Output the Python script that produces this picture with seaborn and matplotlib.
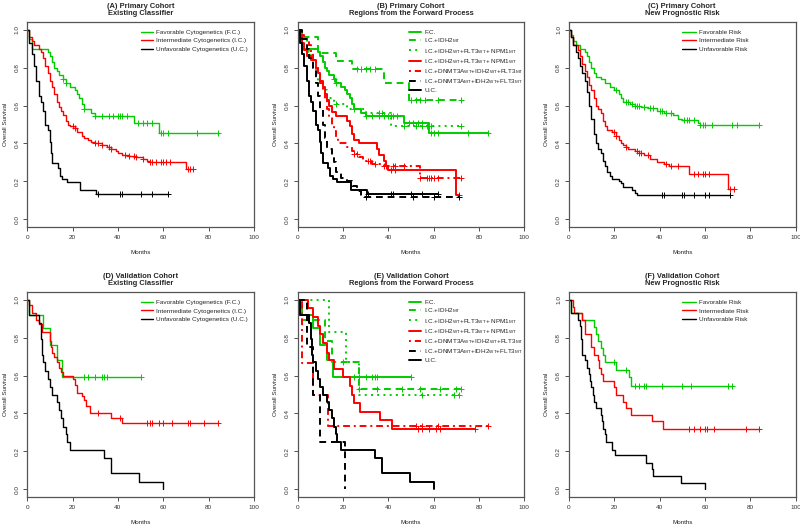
import numpy as np
import matplotlib.pyplot as plt
import seaborn as sns

sns.set_style("ticks")
plt.rcParams["font.family"] = ["Liberation Sans", "DejaVu Sans"]
plt.rcParams["mathtext.fontset"] = "custom"
plt.rcParams["mathtext.rm"] = "Liberation Sans"

GREEN = "#00CC00"
RED = "#FF0000"
BLACK = "#000000"

# ---- (A) primary cohort, existing classifier ----
a_fc_t = [1, 2, 9, 10, 11, 12, 13, 14, 16, 17, 19, 21, 22, 23, 24, 25, 28, 30, 47, 58]
a_fc_s = [0.95, 0.90, 0.88, 0.86, 0.83, 0.80, 0.78, 0.76, 0.74, 0.72, 0.70, 0.68, 0.66, 0.64, 0.61, 0.58, 0.56, 0.545, 0.51, 0.455]
a_fc_c = [16, 17, 25, 30, 33, 36, 38, 40, 41, 42, 44, 49, 51, 53, 55, 59, 60, 62, 75, 84]

a_ic_t = [1, 2, 3, 5, 6, 7, 8, 9, 10, 11, 12, 13, 14, 15, 16, 17, 18, 19, 21, 22, 24, 25, 27, 28, 30, 33, 35, 37, 39, 40, 42, 45, 48, 51, 53, 54, 70]
a_ic_s = [0.96, 0.94, 0.92, 0.90, 0.88, 0.85, 0.81, 0.77, 0.73, 0.70, 0.66, 0.62, 0.59, 0.57, 0.55, 0.52, 0.50, 0.49, 0.48, 0.46, 0.44, 0.43, 0.42, 0.41, 0.40, 0.39, 0.38, 0.37, 0.36, 0.35, 0.34, 0.335, 0.33, 0.32, 0.31, 0.305, 0.265]
a_ic_c = [20, 21, 30, 31, 33, 36, 37, 43, 45, 47, 48, 51, 54, 55, 57, 59, 60, 61, 63, 71, 72, 73]

a_uc_t = [1, 2, 3, 4, 5, 6, 7, 8, 9, 10, 10.5, 11, 13.5, 14.5, 15.5, 17.5, 19.5, 23.5, 30.5]
a_uc_s = [0.93, 0.87, 0.81, 0.73, 0.65, 0.62, 0.57, 0.50, 0.47, 0.41, 0.35, 0.295, 0.27, 0.23, 0.215, 0.195, 0.195, 0.155, 0.135]
a_uc_c = [31, 41, 42, 50, 55, 62]

# ---- (B) primary cohort, forward process regions ----
b_idh_t = [1, 9, 17, 24, 38, 49]
b_idh_s = [0.96, 0.875, 0.835, 0.79, 0.72, 0.63]
b_idh_c = [26, 28, 30, 32, 34, 50, 52, 54, 56, 62, 72]

b_npm_t = [2, 4, 5, 6, 7, 8, 9, 11, 13, 16, 22, 30, 41]
b_npm_s = [0.96, 0.92, 0.88, 0.84, 0.80, 0.76, 0.72, 0.68, 0.64, 0.61, 0.58, 0.56, 0.49]
b_npm_c = [17, 36, 37, 47, 52, 55, 57, 59, 72]

b_wt_t = [1, 2, 3, 4, 6, 8, 9, 10, 11, 12, 13, 14, 15, 17, 22, 23, 24, 25, 27, 35, 36, 38, 39, 40, 70]
b_wt_s = [0.97, 0.93, 0.89, 0.86, 0.84, 0.80, 0.77, 0.73, 0.70, 0.66, 0.63, 0.60, 0.565, 0.545, 0.52, 0.49, 0.45, 0.42, 0.40, 0.37, 0.34, 0.31, 0.28, 0.26, 0.13]
b_wt_c = [39, 41, 43, 71]

b_flt_t = [1, 3, 5, 6, 7, 8, 9, 10, 11, 12, 13, 14, 15, 16, 17, 18, 22, 24, 25, 27, 29, 33, 38, 54]
b_flt_s = [0.97, 0.95, 0.92, 0.88, 0.84, 0.80, 0.76, 0.72, 0.68, 0.63, 0.58, 0.54, 0.50, 0.465, 0.43, 0.40, 0.38, 0.36, 0.345, 0.33, 0.31, 0.29, 0.28, 0.22]
b_flt_c = [25, 26, 31, 32, 34, 38, 42, 43, 47, 54, 57, 58, 59, 60, 62, 72]

b_dn_t = [2, 4, 5, 7, 8, 9, 10, 11, 12, 13, 15, 16, 17, 19, 22, 24, 26, 28]
b_dn_s = [0.95, 0.90, 0.85, 0.80, 0.72, 0.65, 0.58, 0.50, 0.43, 0.37, 0.34, 0.30, 0.25, 0.22, 0.20, 0.175, 0.15, 0.12]
b_dn_c = [30, 51, 60, 71]

# ---- (C) primary cohort, new prognostic risk ----
c_fav_t = [1, 2, 3, 5, 7, 8, 9, 10, 11, 12, 14, 16, 18, 20, 22, 23, 24, 27, 29, 32, 35, 39, 42, 46, 48, 50, 57, 58]
c_fav_s = [0.97, 0.94, 0.92, 0.90, 0.88, 0.86, 0.83, 0.80, 0.77, 0.75, 0.74, 0.72, 0.70, 0.68, 0.66, 0.64, 0.62, 0.61, 0.60, 0.59, 0.585, 0.57, 0.56, 0.55, 0.53, 0.525, 0.51, 0.495]
c_fav_c = [21, 25, 26, 28, 29, 30, 31, 33, 36, 37, 40, 41, 43, 45, 51, 52, 53, 55, 58, 59, 60, 63, 72, 74, 84]

c_int_t = [1, 2, 4, 5, 6, 7, 8, 9, 10, 11, 12, 13, 14, 15, 16, 17, 19, 21, 22, 23, 24, 25, 26, 29, 31, 33, 36, 39, 42, 44, 53, 70]
c_int_s = [0.96, 0.92, 0.89, 0.86, 0.82, 0.78, 0.75, 0.71, 0.68, 0.64, 0.60, 0.58, 0.56, 0.52, 0.49, 0.47, 0.46, 0.44, 0.42, 0.40, 0.39, 0.38, 0.37, 0.36, 0.35, 0.34, 0.32, 0.30, 0.29, 0.28, 0.24, 0.16]
c_int_c = [20, 21, 25, 30, 31, 32, 35, 43, 45, 48, 55, 57, 59, 60, 62, 71, 73]

c_unf_t = [1, 2, 3, 4, 5, 6, 7, 8, 9, 10, 11, 12, 13, 14, 15, 16, 17, 18, 19, 22, 23, 24, 28, 29, 30]
c_unf_s = [0.96, 0.92, 0.88, 0.85, 0.81, 0.77, 0.73, 0.67, 0.60, 0.53, 0.45, 0.40, 0.37, 0.35, 0.31, 0.28, 0.25, 0.23, 0.215, 0.205, 0.19, 0.17, 0.155, 0.14, 0.13]
c_unf_c = [41, 42, 50, 51, 55, 60, 62, 71]

# ---- (D) validation cohort, existing classifier ----
d_fc_t = [1, 7, 10, 13, 15.5]
d_fc_s = [0.92, 0.85, 0.76, 0.68, 0.59]
d_fc_c = [25, 27, 30, 33, 34, 35, 50]

d_ic_t = [1, 2, 4, 5, 6.5, 10, 10.5, 11, 12, 13, 14, 15, 16, 20, 21, 22, 24, 25, 26, 27.5, 37, 42]
d_ic_s = [0.97, 0.93, 0.89, 0.87, 0.83, 0.78, 0.75, 0.72, 0.70, 0.67, 0.64, 0.62, 0.60, 0.58, 0.55, 0.51, 0.49, 0.47, 0.44, 0.40, 0.375, 0.35]
d_ic_c = [31, 41, 53, 54, 55, 58, 60, 64, 71, 72, 78, 84]

d_uc_t = [1, 5, 6, 6.5, 7, 8, 9, 10, 11, 13, 14, 15, 16, 17, 17.5, 19, 34, 37, 49.5, 60]
d_uc_s = [0.92, 0.875, 0.79, 0.71, 0.67, 0.625, 0.58, 0.54, 0.50, 0.46, 0.42, 0.375, 0.33, 0.29, 0.25, 0.21, 0.165, 0.085, 0.04, 0.0]
d_uc_c = []

# ---- (E) validation cohort, forward process regions ----
e_idh_t = [2, 12, 15, 27]
e_idh_s = [0.89, 0.78, 0.67, 0.53]
e_idh_c = [20, 27, 35, 46, 54, 63, 70, 72]

e_npm_t = [14, 21.5, 27]
e_npm_s = [0.83, 0.67, 0.50]
e_npm_c = [55, 69, 71]

e_wt_t = [4.5, 7, 9, 10, 11, 13, 14, 16, 20, 23, 24, 25, 27.5, 36.5, 41.5]
e_wt_s = [0.955, 0.91, 0.86, 0.82, 0.77, 0.72, 0.68, 0.635, 0.59, 0.545, 0.50, 0.455, 0.41, 0.365, 0.32]
e_wt_c = [53, 55, 58, 61, 63, 78]

e_flt_t = [2, 7, 13.5]
e_flt_s = [0.667, 0.50, 0.333]
e_flt_c = [52, 55, 62, 84]

e_dn_t = [4, 7, 10, 21]
e_dn_s = [0.75, 0.50, 0.25, 0.0]
e_dn_c = []

# ---- (F) validation cohort, new prognostic risk ----
f_fav_t = [1, 6, 11, 12, 13, 14, 15, 16, 21, 26.5, 27.5]
f_fav_s = [0.93, 0.89, 0.855, 0.82, 0.78, 0.745, 0.71, 0.67, 0.63, 0.59, 0.545]
f_fav_c = [20, 25, 29, 31, 33, 34, 41, 50, 54, 70, 72]

f_int_t = [2, 2.5, 6, 7, 10, 11, 13, 13.5, 14, 15, 20, 21, 24, 25, 27.5, 36.5, 41.5]
f_int_s = [0.96, 0.93, 0.89, 0.82, 0.75, 0.71, 0.68, 0.64, 0.61, 0.57, 0.54, 0.50, 0.46, 0.43, 0.39, 0.36, 0.32]
f_int_c = [53, 55, 58, 60, 61, 64, 78, 84]

f_unf_t = [1, 4, 5, 5.5, 6, 7, 8, 9, 9.5, 10, 10.5, 11, 12, 14, 14.5, 15, 16, 16.5, 19, 20.5, 34, 36.5, 37, 49.5, 60]
f_unf_s = [0.93, 0.89, 0.86, 0.79, 0.71, 0.68, 0.64, 0.61, 0.57, 0.54, 0.50, 0.46, 0.43, 0.39, 0.36, 0.32, 0.29, 0.25, 0.21, 0.18, 0.14, 0.11, 0.07, 0.036, 0.0]
f_unf_c = []

lab_fc = "Favorable Cytogenetics (F.C.)"
lab_ic = "Intermediate Cytogenetics (I.C.)"
lab_uc = "Unfavorable Cytogenetics (U.C.)"
lab_b = ["F.C.",
         r"I.C.+IDH2$_{\mathrm{MT}}$",
         r"I.C.+IDH2$_{\mathrm{WT}}$+FLT3$_{\mathrm{WT}}$+ NPM1$_{\mathrm{MT}}$",
         r"I.C.+IDH2$_{\mathrm{WT}}$+FLT3$_{\mathrm{WT}}$+ NPM1$_{\mathrm{WT}}$",
         r"I.C.+DNMT3A$_{\mathrm{WT}}$+IDH2$_{\mathrm{WT}}$+FLT3$_{\mathrm{MT}}$",
         r"I.C.+DNMT3A$_{\mathrm{MT}}$+IDH2$_{\mathrm{WT}}$+FLT3$_{\mathrm{MT}}$",
         "U.C."]

SOLID = "-"
DASH = (0, (3.5, 2.5))
DOT = (0, (1, 2.2))
DOTDASH = (0, (1, 2, 3.5, 2))


def km(ax, t, s, cens, color, ls, lw, label):
    tt = [0] + list(t)
    ss = [1.0] + list(s)
    end = max(cens) if cens else tt[-1]
    if end > tt[-1]:
        tt.append(end)
        ss.append(ss[-1])
    sns.lineplot(x=tt, y=ss, ax=ax, color=color, linestyle=ls, linewidth=lw,
                 drawstyle="steps-post", errorbar=None, sort=False, label=label)
    if cens:
        idx = np.searchsorted(tt, cens, side="right") - 1
        cy = [ss[i] for i in idx]
        sns.scatterplot(x=cens, y=cy, ax=ax, color=color, marker="+", s=14,
                        linewidth=0.7, zorder=3)


panels = [
    ("(A) Primary Cohort\nExisting Classifier", 1.0, [
        (a_fc_t, a_fc_s, a_fc_c, GREEN, SOLID, lab_fc),
        (a_ic_t, a_ic_s, a_ic_c, RED, SOLID, lab_ic),
        (a_uc_t, a_uc_s, a_uc_c, BLACK, SOLID, lab_uc)]),
    ("(B) Primary Cohort\nRegions from the Forward Process", 1.4, [
        (a_fc_t, a_fc_s, a_fc_c, GREEN, SOLID, lab_b[0]),
        (b_idh_t, b_idh_s, b_idh_c, GREEN, DASH, lab_b[1]),
        (b_npm_t, b_npm_s, b_npm_c, GREEN, DOT, lab_b[2]),
        (b_wt_t, b_wt_s, b_wt_c, RED, SOLID, lab_b[3]),
        (b_flt_t, b_flt_s, b_flt_c, RED, DOTDASH, lab_b[4]),
        (b_dn_t, b_dn_s, b_dn_c, BLACK, DASH, lab_b[5]),
        (a_uc_t, a_uc_s, a_uc_c, BLACK, SOLID, lab_b[6])]),
    ("(C) Primary Cohort\nNew Prognostic Risk", 1.0, [
        (c_fav_t, c_fav_s, c_fav_c, GREEN, SOLID, "Favorable Risk"),
        (c_int_t, c_int_s, c_int_c, RED, SOLID, "Intermediate Risk"),
        (c_unf_t, c_unf_s, c_unf_c, BLACK, SOLID, "Unfavorable Risk")]),
    ("(D) Validation Cohort\nExisting Classifier", 1.0, [
        (d_fc_t, d_fc_s, d_fc_c, GREEN, SOLID, lab_fc),
        (d_ic_t, d_ic_s, d_ic_c, RED, SOLID, lab_ic),
        (d_uc_t, d_uc_s, d_uc_c, BLACK, SOLID, lab_uc)]),
    ("(E) Validation Cohort\nRegions from the Forward Process", 1.4, [
        (d_fc_t, d_fc_s, d_fc_c, GREEN, SOLID, lab_b[0]),
        (e_idh_t, e_idh_s, e_idh_c, GREEN, DASH, lab_b[1]),
        (e_npm_t, e_npm_s, e_npm_c, GREEN, DOT, lab_b[2]),
        (e_wt_t, e_wt_s, e_wt_c, RED, SOLID, lab_b[3]),
        (e_flt_t, e_flt_s, e_flt_c, RED, DOTDASH, lab_b[4]),
        (e_dn_t, e_dn_s, e_dn_c, BLACK, DASH, lab_b[5]),
        (d_uc_t, d_uc_s, d_uc_c, BLACK, SOLID, lab_b[6])]),
    ("(F) Validation Cohort\nNew Prognostic Risk", 1.0, [
        (f_fav_t, f_fav_s, f_fav_c, GREEN, SOLID, "Favorable Risk"),
        (f_int_t, f_int_s, f_int_c, RED, SOLID, "Intermediate Risk"),
        (f_unf_t, f_unf_s, f_unf_c, BLACK, SOLID, "Unfavorable Risk")]),
]

lefts = [0.034, 0.372, 0.711]
bottoms = [0.5676, 0.0533]
w, h = 0.2835, 0.3905
leg_x = [0.49, 0.48, 0.49]
leg_h = [1.9, 1.9, 2.1]
leg_sp = [0.45, 0.2, 0.45]

fig = plt.figure(figsize=(8, 5.25), dpi=100)
for k, (title, lw, curves) in enumerate(panels):
    row, col = divmod(k, 3)
    ax = fig.add_axes([lefts[col], bottoms[row], w, h])
    for t, s, c, color, ls, label in curves:
        km(ax, t, s, c, color, ls, lw, label)
    ax.set_xlim(0, 100)
    ax.set_ylim(-0.04, 1.04)
    ax.set_xticks(range(0, 101, 20))
    ax.set_yticks([0, 0.2, 0.4, 0.6, 0.8, 1.0])
    ax.set_yticklabels(["0.0", "0.2", "0.4", "0.6", "0.8", "1.0"], rotation=90, va="center")
    ax.tick_params(labelsize=4.6, length=3, width=0.6, colors="#333333", pad=2.5)
    for sp in ax.spines.values():
        sp.set_visible(True)
        sp.set_color("#555555")
        sp.set_linewidth(0.9)
    ax.set_xlabel("Months", fontsize=4.5, labelpad=7.5)
    ax.set_ylabel("Overall Survival", fontsize=4.5, labelpad=5)
    ax.set_title(title, fontsize=5.4, fontweight="bold", pad=5, linespacing=1.1)
    ax.legend(loc="upper left", bbox_to_anchor=(leg_x[col], 0.975), frameon=False,
              fontsize=4.6, handlelength=leg_h[col], labelspacing=leg_sp[col],
              borderaxespad=0, handletextpad=0.5)

fig.savefig("out.png", dpi=100)
